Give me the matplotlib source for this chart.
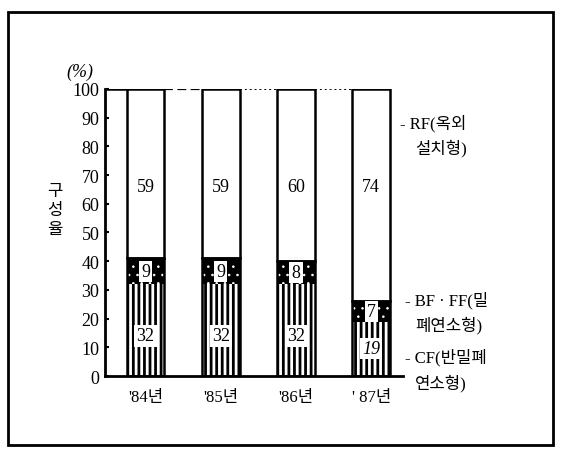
import numpy as np
import matplotlib.pyplot as plt
from matplotlib.patches import Rectangle

plt.rcParams['font.family'] = ['Liberation Serif', 'Noto Sans CJK KR']

years = ["'84년", "'85년", "'86년", "' 87년"]
cf = [32, 32, 32, 19]      # CF(반밀폐연소형)
bf_ff = [9, 9, 8, 7]       # BF·FF(밀폐연소형)
rf = [59, 59, 60, 74]      # RF(옥외설치형)

x = np.arange(len(years))
w = 0.5
cf = np.array(cf)
bf_ff = np.array(bf_ff)
rf = np.array(rf)

fig = plt.figure(figsize=(5.61, 4.56), dpi=100)
ax = fig.add_axes([0.187, 0.173, 0.531, 0.630])

# black segments with white hatching on top
ax.bar(x, cf, w, color='black', linewidth=0)
with plt.rc_context({'hatch.linewidth': 2.0}):
    ax.bar(x, cf, w, facecolor='none', edgecolor='white', hatch='|||', linewidth=0)
ax.bar(x, bf_ff, w, bottom=cf, color='black', linewidth=0)
with plt.rc_context({'hatch.linewidth': 0.6}):
    ax.bar(x, bf_ff, w, bottom=cf, facecolor='none', edgecolor='white', hatch='..', linewidth=0)
ax.bar(x, rf, w, bottom=cf + bf_ff, color='white', edgecolor='black', linewidth=1.8)
ax.bar(x, cf + bf_ff, w, facecolor='none', edgecolor='black', linewidth=1.8)

box = dict(facecolor='white', edgecolor='none', pad=1.5)
for i in range(len(years)):
    ax.text(x[i], 66, str(rf[i]), ha='center', va='center', fontsize=13, bbox=box)
    ax.text(x[i], cf[i] + bf_ff[i] / 2, str(bf_ff[i]), ha='center', va='center',
            fontsize=13, bbox=box)
    ycf = 14 if cf[i] > 25 else cf[i] / 2
    ax.text(x[i], ycf, str(cf[i]), ha='center', va='center', fontsize=13, bbox=box,
            style='italic' if cf[i] < 25 else 'normal')

# connecting line along the 100% mark
ax.plot([x[0] + w / 2, x[1] - w / 2], [100, 100], color='black', lw=1.6, ls=(0, (4, 2)))
ax.plot([x[1] + w / 2, x[2] - w / 2], [100, 100], color='black', lw=1.4, ls=(0, (1, 1.5)))
ax.plot([x[2] + w / 2, x[3] - w / 2], [100, 100], color='black', lw=1.4, ls=(0, (1, 1.5)))
ax.plot([-0.54, x[0] - w / 2], [100, 100], color='black', lw=1.8)

ax.set_xlim(-0.54, 3.42)
ax.set_ylim(0, 100)
ax.set_yticks(range(0, 101, 10))
ax.set_xticks(x)
ax.set_xticklabels(years, fontsize=12)
ax.tick_params(axis='y', direction='in', length=3, width=1.5, labelsize=13, pad=4)
ax.tick_params(axis='x', length=0, pad=9)
for s in ['top', 'right']:
    ax.spines[s].set_visible(False)
ax.spines['left'].set_linewidth(2)
ax.spines['bottom'].set_linewidth(2)

fig.text(0.143, 0.842, '(%)', fontsize=13, style='italic', ha='center', va='center')
# vertical y-axis caption, one syllable per line
for ch, yy in zip('구성율', [0.579, 0.537, 0.496]):
    fig.text(0.098, yy, ch, fontsize=12, ha='center', va='center')

# right-hand legend text
fig.text(0.713, 0.730, '- RF(옥외', fontsize=12, ha='left', va='center')
fig.text(0.740, 0.675, '설치형)', fontsize=12, ha='left', va='center')
fig.text(0.722, 0.340, '- BF · FF(밀', fontsize=12, ha='left', va='center')
fig.text(0.740, 0.287, '폐연소형)', fontsize=12, ha='left', va='center')
fig.text(0.722, 0.215, '- CF(반밀폐', fontsize=12, ha='left', va='center')
fig.text(0.740, 0.160, '연소형)', fontsize=12, ha='left', va='center')

# frame around the whole figure
fig.patches.append(Rectangle((0.015, 0.022), 0.970, 0.950, transform=fig.transFigure,
                             fill=False, edgecolor='black', linewidth=2))

fig.savefig('out.png', dpi=100)
